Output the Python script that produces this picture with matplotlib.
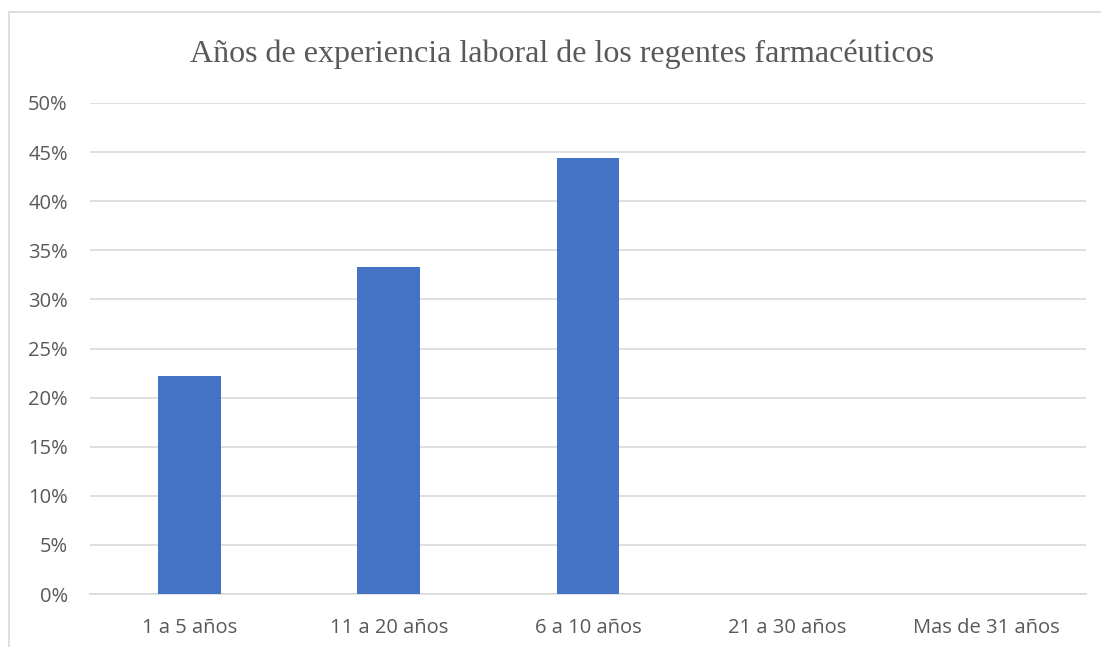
import numpy as np
import matplotlib.pyplot as plt
from matplotlib.ticker import PercentFormatter
from matplotlib.patches import Rectangle

categorias = ['1 a 5 años', '11 a 20 años', '6 a 10 años', '21 a 30 años', 'Mas de 31 años']
valores = [0.222, 0.333, 0.444, 0.0, 0.0]
titulo = 'Años de experiencia laboral de los regentes farmacéuticos'

fig = plt.figure(figsize=(11.01, 6.47), dpi=100)
# chart border (cropped at right and bottom in the original)
fig.patches.append(Rectangle((9 / 1101, -0.1), 1.2, 1 - 12 / 647 + 0.1, transform=fig.transFigure,
                             fill=False, edgecolor='#D9D9D9', linewidth=1.2))

ax = fig.add_axes([90 / 1101, 1 - 594 / 647, 996 / 1101, 491 / 647])
x = np.arange(len(categorias))
ax.bar(x, valores, width=0.315, color='#4472C4', zorder=3)

ax.set_xlim(-0.5, len(categorias) - 0.5)
ax.set_ylim(0, 0.5)
ax.set_yticks(np.arange(0, 0.51, 0.05))
ax.yaxis.set_major_formatter(PercentFormatter(1.0, decimals=0))
ax.set_xticks(x)
ax.set_xticklabels(categorias)
ax.grid(axis='y', color='#D9D9D9', linewidth=1.2, zorder=0)
for s in ['top', 'right', 'left']:
    ax.spines[s].set_visible(False)
ax.spines['bottom'].set_color('#D9D9D9')
ax.spines['bottom'].set_linewidth(1.2)
ax.tick_params(length=0, labelsize=14.5, colors='#595959')
for lbl in ax.get_xticklabels() + ax.get_yticklabels():
    lbl.set_fontfamily('Open Sans')
ax.tick_params(axis='x', pad=17)
ax.tick_params(axis='y', pad=16)

fig.text(562 / 1101, 1 - 54 / 647, titulo, ha='center', va='center', fontsize=23,
         family='Liberation Serif', color='#595959')

fig.savefig('out.png', dpi=100)
